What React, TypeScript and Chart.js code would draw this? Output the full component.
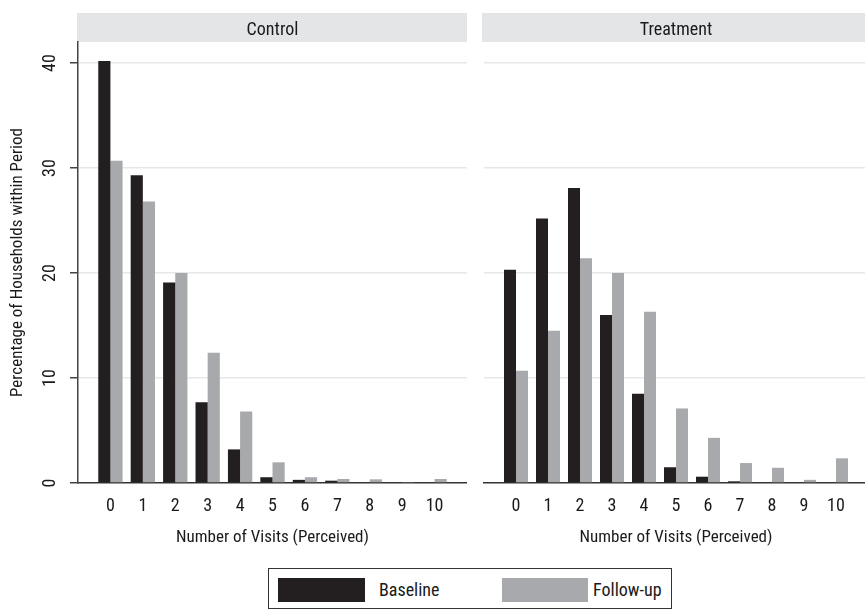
import React, { useEffect, useRef } from 'react';
import { Chart, registerables } from 'chart.js';

Chart.register(...registerables);

// ---------- data ----------
const visits = ['0', '1', '2', '3', '4', '5', '6', '7', '8', '9', '10'];
const controlBaseline = [40.2, 29.3, 19.1, 7.7, 3.2, 0.55, 0.3, 0.22, 0, 0, 0];
const controlFollowup = [30.7, 26.8, 20.0, 12.4, 6.8, 1.97, 0.55, 0.38, 0.35, 0.1, 0.38];
const treatmentBaseline = [20.3, 25.2, 28.1, 16.0, 8.5, 1.5, 0.6, 0.16, 0, 0, 0];
const treatmentFollowup = [10.7, 14.5, 21.4, 20.0, 16.3, 7.1, 4.3, 1.9, 1.45, 0.3, 2.35];
const yTicks = [0, 10, 20, 30, 40];
const panelTitles = ['Control', 'Treatment'];
const seriesNames = ['Baseline', 'Follow-up'];
const xTitle = 'Number of Visits (Perceived)';
const yTitle = 'Percentage of Households within Period';

// ---------- styles ----------
const FONT = "'Roboto Condensed', 'DejaVu Sans Condensed', sans-serif";
const FS = 17;
const TICK_FS = 18;
const DARK = '#231f20';
const GREY = '#a7a9ac';
const STRIP = '#e4e5e7';
const GRID = '#e6e7e8';
const TEXT = '#1a1a1a';

const padLabels = ['', ...visits, ''];
const pad = (arr: number[]) => [null, ...arr, null];

function makeConfig(isLeft: boolean, title: string, base: number[], follow: number[]): any {
  const stripPlugin = {
    id: 'panelStrip',
    beforeDraw(chart: any) {
      const { ctx, chartArea } = chart;
      ctx.save();
      const left = chartArea.left - (isLeft ? 1 : 2);
      ctx.fillStyle = STRIP;
      ctx.fillRect(left, 13, chart.width - left, 29);
      ctx.fillStyle = TEXT;
      ctx.font = `18px ${FONT}`;
      ctx.textAlign = 'center';
      ctx.textBaseline = 'alphabetic';
      ctx.fillText(title, (chartArea.left + chartArea.right) / 2, 34.5);
      ctx.restore();
    },
    afterDraw(chart: any) {
      if (!isLeft) return;
      const { ctx } = chart;
      const y = chart.scales.y;
      ctx.save();
      ctx.fillStyle = TEXT;
      ctx.font = `${TICK_FS}px ${FONT}`;
      ctx.textAlign = 'center';
      ctx.textBaseline = 'alphabetic';
      y.ticks.forEach((t: any) => {
        const py = y.getPixelForValue(t.value);
        ctx.save();
        ctx.translate(55, py);
        ctx.rotate(-Math.PI / 2);
        ctx.fillText(String(t.value), 0, 0);
        ctx.restore();
      });
      ctx.restore();
    },
  };

  return {
    type: 'bar',
    data: {
      labels: padLabels,
      datasets: [
        { label: seriesNames[0], data: pad(base), backgroundColor: DARK, borderWidth: 0 },
        { label: seriesNames[1], data: pad(follow), backgroundColor: GREY, borderWidth: 0 },
      ],
    },
    options: {
      responsive: false,
      animation: false,
      devicePixelRatio: 1,
      layout: { padding: { top: 42, left: isLeft ? 0 : 2, right: 0, bottom: 0 } },
      datasets: { bar: { categoryPercentage: 0.75, barPercentage: 1.0 } },
      plugins: {
        legend: { display: false },
        tooltip: { enabled: false },
        title: { display: false },
      },
      scales: {
        x: {
          type: 'category',
          offset: false,
          afterFit: (s: any) => { s.height = 77; },
          grid: { display: false, drawTicks: true, tickLength: 13 },
          border: { display: true, color: '#333333', width: 1.5 },
          ticks: {
            color: TEXT,
            font: { family: FONT, size: TICK_FS },
            padding: 0,
            autoSkip: false,
            maxRotation: 0,
            minRotation: 0,
          },
          title: {
            display: true,
            text: xTitle,
            color: TEXT,
            font: { family: FONT, size: FS },
            padding: { top: 0, bottom: 12 },
          },
        },
        y: {
          type: 'linear',
          min: 0,
          max: 42,
          afterBuildTicks: (s: any) => { s.ticks = yTicks.map((v) => ({ value: v })); },
          afterFit: (s: any) => { s.width = isLeft ? 78 : 0; },
          grid: {
            color: (c: any) => (c.tick && c.tick.value === 0 ? 'rgba(0,0,0,0)' : GRID),
            lineWidth: 1.5,
            drawTicks: isLeft,
            tickLength: 8,
            tickColor: '#444444',
          },
          border: { display: isLeft, color: '#444444', width: 1.5 },
          ticks: { display: false, padding: 0 },
          title: {
            display: isLeft,
            text: yTitle,
            color: TEXT,
            font: { family: FONT, size: FS },
            padding: { top: 8, bottom: 0 },
          },
        },
      },
    },
    plugins: [stripPlugin],
  };
}

function Panel(props: { isLeft: boolean; title: string; base: number[]; follow: number[]; left: number; width: number }) {
  const ref = useRef<HTMLCanvasElement | null>(null);
  useEffect(() => {
    if (!ref.current) return;
    const chart = new Chart(ref.current, makeConfig(props.isLeft, props.title, props.base, props.follow));
    return () => chart.destroy();
  }, []);
  return (
    <canvas
      ref={ref}
      width={props.width}
      height={560}
      style={{ position: 'absolute', left: props.left, top: 0, width: props.width, height: 560 }}
    />
  );
}

export default function App() {
  const textStyle: React.CSSProperties = {
    position: 'absolute',
    top: 9,
    height: 24,
    lineHeight: '24px',
    fontFamily: FONT,
    fontSize: 18,
    color: TEXT,
    whiteSpace: 'nowrap',
  };
  return (
    <div
      style={{
        position: 'fixed',
        left: 0,
        top: 0,
        width: 865,
        height: 609,
        overflow: 'hidden',
        background: '#ffffff',
      }}
    >
      <Panel isLeft={true} title={panelTitles[0]} base={controlBaseline} follow={controlFollowup} left={0} width={467} />
      <Panel isLeft={false} title={panelTitles[1]} base={treatmentBaseline} follow={treatmentFollowup} left={482} width={386} />
      <div
        style={{
          position: 'absolute',
          left: 268,
          top: 568,
          width: 404,
          height: 41,
          boxSizing: 'border-box',
          border: '1px solid #333333',
          background: '#ffffff',
        }}
      >
        <div style={{ position: 'absolute', left: 9, top: 9, width: 87, height: 24, background: DARK }} />
        <span style={{ ...textStyle, left: 110 }}>{seriesNames[0]}</span>
        <div style={{ position: 'absolute', left: 233, top: 9, width: 86, height: 24, background: GREY }} />
        <span style={{ ...textStyle, left: 324 }}>{seriesNames[1]}</span>
      </div>
    </div>
  );
}
